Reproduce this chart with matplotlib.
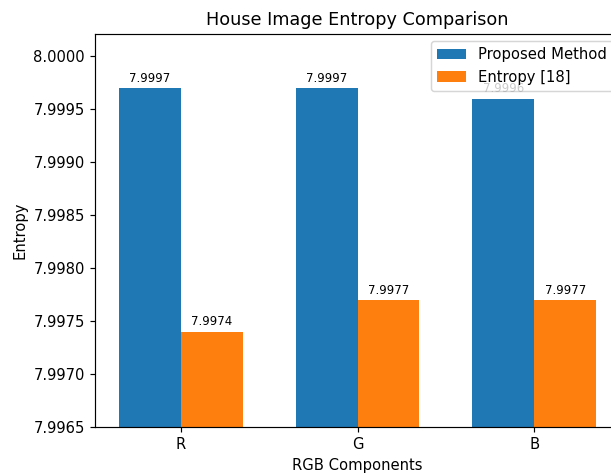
import numpy as np
import matplotlib
matplotlib.use("Agg")
import matplotlib.pyplot as plt
from matplotlib.ticker import MultipleLocator, FormatStrFormatter

# --- Data --------------------------------------------------------------------
components = ["R", "G", "B"]
proposed = [7.9997, 7.9997, 7.9996]
entropy_18 = [7.9974, 7.9977, 7.9977]
series_names = ["Proposed Method", "Entropy [18]"]

# --- Figure ------------------------------------------------------------------
DPI = 106
fig = plt.figure(figsize=(611 / DPI, 475 / DPI), dpi=DPI)
# the reference is cropped on the right, so the axes run past the image edge
ax = fig.add_axes([95 / 611, 48 / 475, 525 / 611, 393 / 475])

x = np.arange(len(components))
width = 0.35

bars1 = ax.bar(x - width / 2, proposed, width, label=series_names[0], color="#1f77b4")
bars2 = ax.bar(x + width / 2, entropy_18, width, label=series_names[1], color="#ff7f0e")

# value labels above each bar
for bars in (bars1, bars2):
    for b in bars:
        h = b.get_height()
        ax.text(b.get_x() + b.get_width() / 2, h + 0.00003, f"{h:.4f}",
                ha="center", va="bottom", fontsize=8)

ax.set_ylim(7.9965, 8.00021)
ax.yaxis.set_major_locator(MultipleLocator(0.0005))
ax.yaxis.set_major_formatter(FormatStrFormatter("%.4f"))
ax.set_xticks(x)
ax.set_xticklabels(components)

ax.set_xlabel("RGB Components")
ax.set_ylabel("Entropy")
ax.set_title("House Image Entropy Comparison")
ax.legend(loc="upper right")

fig.savefig("out.png", dpi=DPI)
